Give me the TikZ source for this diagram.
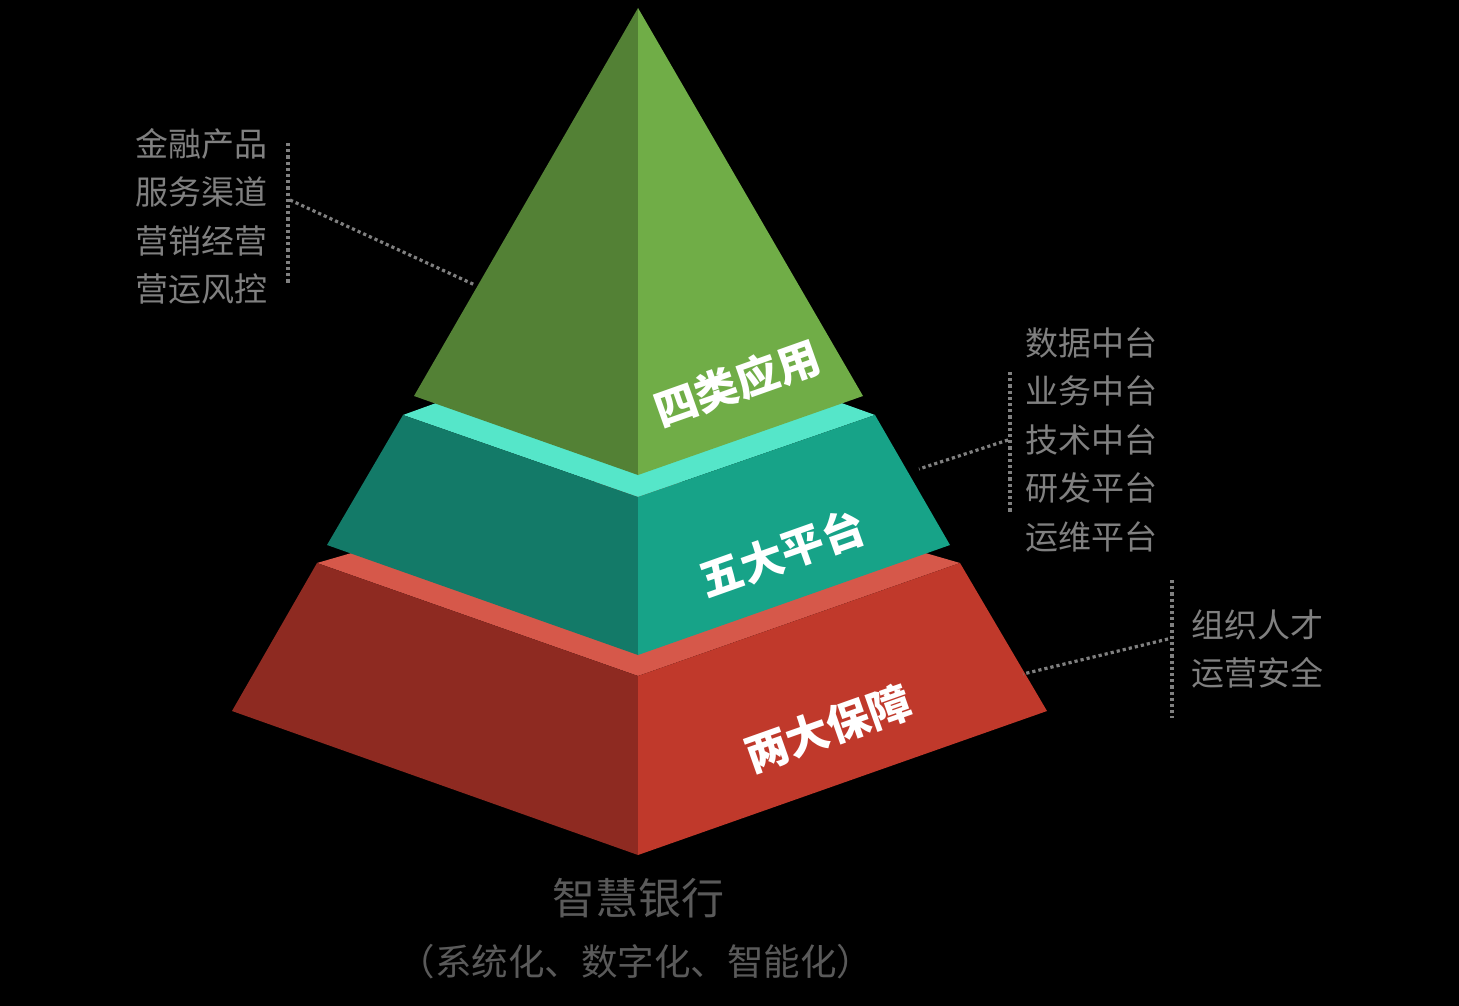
\documentclass[tikz,border=0pt]{standalone}
\usepackage{fontspec}
\usepackage{xcolor}
\usepackage{tikz}
\usetikzlibrary{positioning,calc}
\newfontfamily\cjk{Noto Sans CJK SC}
\definecolor{grnL}{HTML}{538135}
\definecolor{grnR}{HTML}{70AD47}
\definecolor{tealT}{HTML}{55E6C9}
\definecolor{tealL}{HTML}{137A68}
\definecolor{tealR}{HTML}{17A388}
\definecolor{redT}{HTML}{D6584A}
\definecolor{redL}{HTML}{8E2A21}
\definecolor{redR}{HTML}{C0392B}
\definecolor{listgray}{HTML}{808080}
\definecolor{capgray}{HTML}{5A5A5A}

\begin{document}
\begin{tikzpicture}[x=1pt,y=-1pt,
  item/.style={font=\cjk\fontsize{33}{33}\selectfont,text=listgray,inner sep=0pt,text height=27pt,text depth=6pt},
  layer/.style={font=\cjk\bfseries\fontsize{43}{43}\selectfont,text=white,rotate=19.5,inner sep=0pt},
  link/.style={draw=listgray,line width=3.2pt,dash pattern=on 3.2pt off 3pt}]
\fill[black] (0,0) rectangle (1459,1006);
% bottom layer
\fill[redT] (317,563) -- (638,470) -- (960,563) -- (638,676) -- cycle;
\fill[redL] (317,563) -- (638,676) -- (638,855) -- (232,711) -- cycle;
\fill[redR] (638,676) -- (960,563) -- (1047,711) -- (638,855) -- cycle;
% middle layer
\fill[tealT] (403,415) -- (638,330) -- (875,415) -- (638,497) -- cycle;
\fill[tealL] (403,415) -- (638,497) -- (638,655) -- (327,545) -- cycle;
\fill[tealR] (638,497) -- (875,415) -- (950,545) -- (638,655) -- cycle;
% top
\fill[grnL] (638,8) -- (414,396) -- (638,475) -- cycle;
\fill[grnR] (638,8) -- (638,475) -- (863,396) -- cycle;

\node[layer] (app) at (737,383) {四类应用};
\node[layer] (plat) at (782,553) {五大平台};
\node[layer] (guard) at (828,728) {两大保障};

% left list
\node[item] (g1) at (201,146) {金融产品};
\node[item,below=15pt of g1] (g2) {服务渠道};
\node[item,below=15pt of g2] (g3) {营销经营};
\node[item,below=15pt of g3] (g4) {营运风控};
\coordinate (gTop) at (288,143);
\coordinate (gBot) at (288,283);
\coordinate (gMid) at (290,200);
\coordinate (gHit) at (475,285);
\draw[link] (gTop) -- (gBot);
\draw[link] (gMid) -- (gHit);

% right list, middle layer
\node[item] (t1) at (1091,345) {数据中台};
\node[item,below=15pt of t1] (t2) {业务中台};
\node[item,below=15pt of t2] (t3) {技术中台};
\node[item,below=15pt of t3] (t4) {研发平台};
\node[item,below=15pt of t4] (t5) {运维平台};
\coordinate (tTop) at (1010,372);
\coordinate (tBot) at (1010,512);
\coordinate (tMid) at (1008,440);
\coordinate (tHit) at (919,469);
\draw[link] (tTop) -- (tBot);
\draw[link] (tMid) -- (tHit);

% right list, bottom layer
\node[item] (r1) at (1257,627) {组织人才};
\node[item,below=15pt of r1] (r2) {运营安全};
\coordinate (rTop) at (1172,580);
\coordinate (rBot) at (1172,718);
\coordinate (rMid) at (1168,639);
\coordinate (rHit) at (1023,674);
\draw[link] (rTop) -- (rBot);
\draw[link] (rMid) -- (rHit);

% caption
\node[font=\cjk\fontsize{43}{43}\selectfont,text=capgray,inner sep=0pt] (title) at (638,898) {智慧银行};
\node[font=\cjk\fontsize{36.5}{36.5}\selectfont,text=capgray,inner sep=0pt] (sub) at (636,962) {（系统化、数字化、智能化）};
\end{tikzpicture}
\end{document}
